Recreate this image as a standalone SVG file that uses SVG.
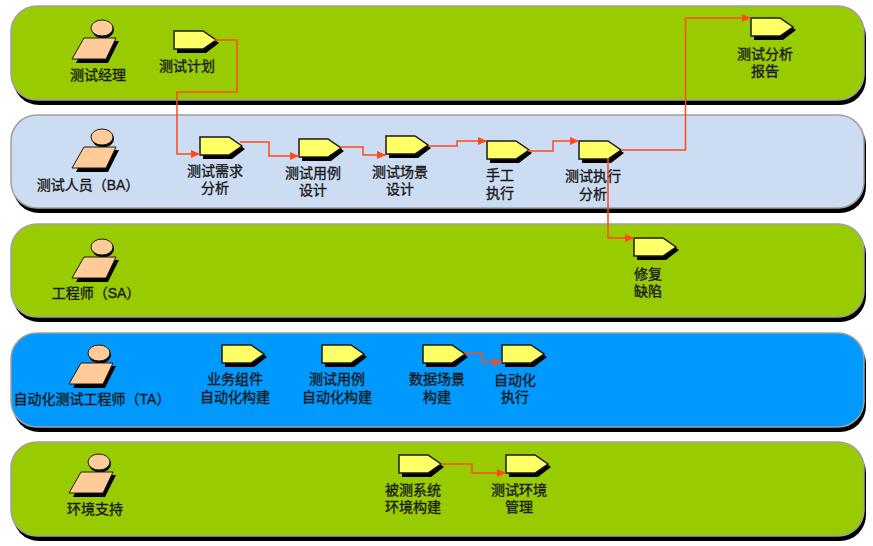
<svg xmlns="http://www.w3.org/2000/svg" width="873" height="546" viewBox="0 0 873 546">
<style>
text{font-family:"Liberation Sans","Noto Sans CJK SC",sans-serif;font-size:14px;font-weight:400;fill:#1a1a1a;text-anchor:middle;stroke:#1a1a1a;stroke-width:.35}
.lane{stroke:#a0a0a0;stroke-width:1.5}
.sh{fill:#000}
.link{fill:none;stroke:#ff4a1c;stroke-width:1.5;marker-end:url(#arr)}
</style>
<defs>
<marker id="arr" markerUnits="userSpaceOnUse" markerWidth="10" markerHeight="10" refX="9" refY="4" orient="auto"><path d="M0 0L9 4L0 8Z" fill="#ff4a1c"/></marker>
<g id="pent">
<path class="sh" d="M3 3H32L45 12L32 22H3Z"/>
<path d="M0 0H29L42 9L29 18H0Z" fill="#ffff66" stroke="#1a1a1a" stroke-width="1.5"/>
</g>
<g id="person">
<path class="sh" d="M15 3H47L36 25H4Z"/>
<ellipse cx="31" cy="-8" rx="11" ry="8.500" fill="#000"/>
<ellipse cx="30" cy="-10" rx="11" ry="8" fill="#ffcc99" stroke="#1a1a1a" stroke-width="1"/>
<path d="M12 0H44L34 21H0Z" fill="#ffcc99" stroke="#1a1a1a" stroke-width="1"/>
</g>
</defs>
<rect width="873" height="546" fill="#fff"/>
<g id="lanes">
<g id="lane1"><rect class="sh" x="13" y="11" width="853" height="94" rx="26"/><rect class="lane" x="11" y="6" width="853" height="94" rx="26" fill="#99cc00"/></g>
<g id="lane2"><rect class="sh" x="13" y="119" width="853" height="94" rx="26"/><rect class="lane" x="11" y="115" width="853" height="93" rx="26" fill="#ccdcf2"/></g>
<g id="lane3"><rect class="sh" x="13" y="228" width="853" height="94" rx="26"/><rect class="lane" x="11" y="224" width="853" height="93" rx="26" fill="#99cc00"/></g>
<g id="lane4"><rect class="sh" x="13" y="338" width="853" height="94" rx="26"/><rect class="lane" x="11" y="333" width="853" height="94" rx="26" fill="#0099ff"/></g>
<g id="lane5"><rect class="sh" x="13" y="447" width="853" height="94" rx="26"/><rect class="lane" x="11" y="442" width="853" height="94" rx="26" fill="#99cc00"/></g>
</g>
<g id="actor1"><use href="#person" x="72" y="38"/><text x="98" y="80">测试经理</text></g>
<g id="actor2"><use href="#person" x="72" y="147"/><text x="88" y="190">测试人员（BA）</text></g>
<g id="actor3"><use href="#person" x="72" y="257"/><text x="96" y="298">工程师（SA）</text></g>
<g id="actor4"><use href="#person" x="69" y="363"/><text x="92" y="404">自动化测试工程师（TA）</text></g>
<g id="actor5"><use href="#person" x="69" y="472"/><text x="95" y="514">环境支持</text></g>
<g id="n1"><use href="#pent" x="174" y="31"/><text x="187" y="71">测试计划</text></g>
<g id="n2"><use href="#pent" x="200" y="137"/><text x="215" y="176">测试需求<tspan x="215" dy="17">分析</tspan></text></g>
<g id="n3"><use href="#pent" x="299" y="139"/><text x="313" y="178">测试用例<tspan x="313" dy="17">设计</tspan></text></g>
<g id="n4"><use href="#pent" x="386" y="136"/><text x="400" y="177">测试场景<tspan x="400" dy="17">设计</tspan></text></g>
<g id="n5"><use href="#pent" x="487" y="141"/><text x="500" y="180">手工<tspan x="500" dy="18">执行</tspan></text></g>
<g id="n6"><use href="#pent" x="579" y="141"/><text x="593" y="181">测试执行<tspan x="593" dy="18">分析</tspan></text></g>
<g id="n7"><use href="#pent" x="751" y="18"/><text x="765" y="59">测试分析<tspan x="765" dy="17">报告</tspan></text></g>
<g id="n8"><use href="#pent" x="634" y="238"/><text x="648" y="279">修复<tspan x="648" dy="17">缺陷</tspan></text></g>
<g id="n9"><use href="#pent" x="222" y="345"/><text x="235" y="384">业务组件<tspan x="235" dy="18">自动化构建</tspan></text></g>
<g id="n10"><use href="#pent" x="322" y="345"/><text x="337" y="384">测试用例<tspan x="337" dy="18">自动化构建</tspan></text></g>
<g id="n11"><use href="#pent" x="423" y="345"/><text x="437" y="384">数据场景<tspan x="437" dy="18">构建</tspan></text></g>
<g id="n12"><use href="#pent" x="502" y="345"/><text x="515" y="385">自动化<tspan x="515" dy="17">执行</tspan></text></g>
<g id="n13"><use href="#pent" x="399" y="455"/><text x="413" y="495">被测系统<tspan x="413" dy="17">环境构建</tspan></text></g>
<g id="n14"><use href="#pent" x="506" y="455"/><text x="519" y="495">测试环境<tspan x="519" dy="17">管理</tspan></text></g>
<g id="connectors">
<path class="link" d="M214 40H237V92H177V154H200"/>
<path class="link" d="M240 142H269V156H299"/>
<path class="link" d="M340 147H363V155H386"/>
<path class="link" d="M428 146H457V141H487"/>
<path class="link" d="M528 151H553V141H579"/>
<path class="link" d="M621 150H685.500V18H751"/>
<path class="link" d="M608 158V238H634"/>
<path class="link" d="M464 353H482V362H502"/>
<path class="link" d="M441 464H472V473H506"/>
</g>
</svg>
